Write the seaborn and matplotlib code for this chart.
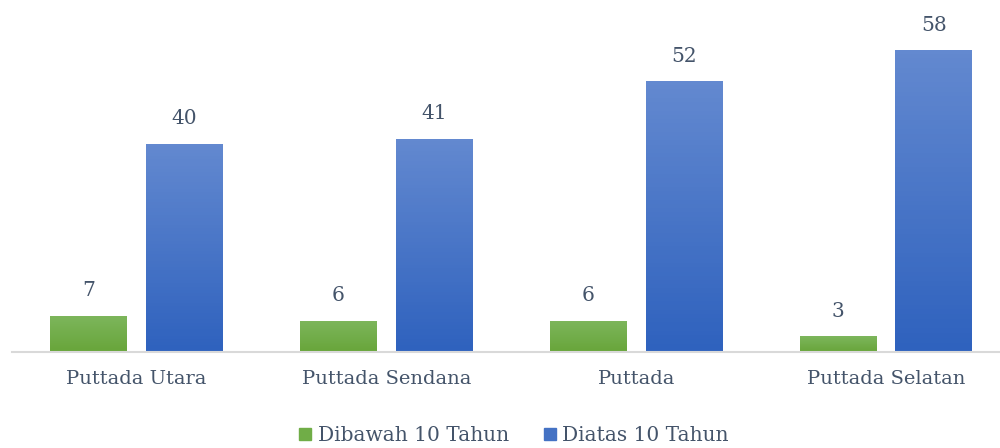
import numpy as np
import pandas as pd
import matplotlib
matplotlib.use('Agg')
import matplotlib.pyplot as plt
from matplotlib.colors import LinearSegmentedColormap
import seaborn as sns

sns.set_style('white')
plt.rcParams['font.family'] = ['DejaVu Serif']

categories = ['Puttada Utara', 'Puttada Sendana', 'Puttada', 'Puttada Selatan']
series = ['Dibawah 10 Tahun', 'Diatas 10 Tahun']
under_10 = [7, 6, 6, 3]
over_10 = [40, 41, 52, 58]

df = pd.DataFrame({
	'wilayah': categories * 2,
	'kelompok': [series[0]] * 4 + [series[1]] * 4,
	'jumlah': under_10 + over_10,
})

text_col = '#44546A'
colors = {series[0]: '#70AD47', series[1]: '#4472C4'}
grads = {series[0]: ('#7DB65C', '#68A53A'), series[1]: ('#6389D0', '#2F62BE')}

fig = plt.figure(figsize=(10, 4.48), dpi=100)
ax = fig.add_axes([0.0116, 0.2143, 0.9993, 0.7857])

sns.barplot(data=df, x='wilayah', y='jumlah', hue='kelompok', order=categories,
			hue_order=series, palette=colors, width=0.768, gap=0.198, ax=ax, legend=False)

# gradient fill clipped to each bar
for cont, name in zip(ax.containers, series):
	cmap = LinearSegmentedColormap.from_list(name, [grads[name][1], grads[name][0]])
	for p in cont.patches:
		x0, y0 = p.get_x(), p.get_y()
		w, h = p.get_width(), p.get_height()
		im = ax.imshow(np.linspace(0, 1, 64).reshape(-1, 1), cmap=cmap, origin='lower',
					   extent=[x0, x0 + w, y0, y0 + h], aspect='auto', zorder=p.get_zorder() + 0.1)
		im.set_clip_path(p)
	ax.bar_label(cont, padding=11, fontsize=14.5, color=text_col)
ax.set_xlim(-0.5, 3.5)
ax.set_ylim(0, 67.6)

ax.set_xlabel('')
ax.set_ylabel('')
ax.set_yticks([])
ax.tick_params(axis='x', length=0, pad=13, labelsize=14, labelcolor=text_col)
for s in ['top', 'right', 'left']:
	ax.spines[s].set_visible(False)
ax.spines['bottom'].set_color('#D9D9D9')
ax.spines['bottom'].set_linewidth(1.5)

handles = [plt.Line2D([], [], marker='s', linestyle='', markersize=9, color=colors[s]) for s in series]
fig.legend(handles, series, loc='center', bbox_to_anchor=(0.512, 0.027), ncol=2, frameon=False,
		   fontsize=14.5, labelcolor=text_col, handlelength=1.0, handletextpad=0.1, columnspacing=1.55)

fig.savefig('out.png', dpi=100)
